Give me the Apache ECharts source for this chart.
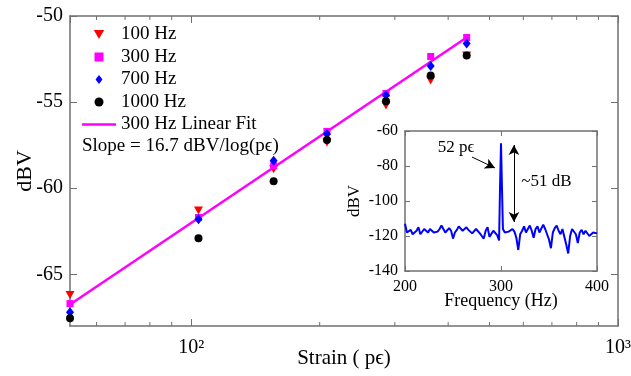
<!DOCTYPE html>
<html>
<head>
<meta charset="utf-8">
<script src="https://cdn.jsdelivr.net/npm/echarts@6/dist/echarts.min.js"></script>
<style>html,body{margin:0;padding:0;background:#fff}#c{width:631px;height:376px}</style>
</head>
<body>
<div id="c"></div>
<script>
// ---- main chart data ----
const strain = [52, 104, 156, 208, 286, 364, 442];
const hz100  = [-66.2, -61.3, -58.9, -57.35, -55.2, -53.75, -52.3];
const hz300  = [-66.7, -61.7, -58.7, -56.7, -54.5, -52.35, -51.25];
const hz700  = [-67.2, -61.8, -58.4, -56.85, -54.6, -52.9, -51.6];
const hz1000 = [-67.55, -62.9, -59.6, -57.2, -54.95, -53.45, -52.3];
const fitX = [52, 442];
const fitY = [-66.75, -51.25];
const yTicks = [-65, -60, -55, -50];
const xMinor = [60, 70, 80, 90, 200, 300, 400, 500, 600, 700, 800, 900];
const xTickLabels = { 100: '10\u00b2', 1000: '10\u00b3' };
const seriesNames = ['100 Hz', '300 Hz', '700 Hz', '1000 Hz', '300 Hz Linear Fit'];

// ---- inset spectrum data ----
const freq = [200,202,204,206,208,210,212,214,216,218,220,222,224,226,228,230,232,234,236,238,240,242,244,246,248,250,252,254,256,258,260,262,264,266,268,270,272,274,276,278,280,282,284,286,288,290,292,294,296,298,299,300,301,302,304,306,308,310,312,314,316,318,320,322,324,326,328,330,332,334,336,338,340,342,344,346,348,350,352,354,356,358,360,362,364,366,368,370,372,374,376,378,380,382,384,386,388,390,392,394,396,398,400];
const dbv = [-113,-118,-119,-116.5,-119,-120,-117,-115,-119,-118,-116,-117,-118,-116,-115,-118,-117,-117.5,-116,-114,-116,-118,-117,-115.5,-117,-121.5,-118,-116.5,-114.5,-113.5,-117,-118,-115,-116.5,-117,-118.5,-119.5,-116,-117,-118.5,-120,-121.5,-117,-115,-120.5,-121,-117,-118,-119.5,-122.5,-92,-67,-92,-116,-118,-118.5,-117.5,-117,-116,-117.5,-121,-128,-119,-117,-114.5,-118,-119,-114,-117,-121,-116,-114.5,-118,-117,-113.5,-116,-119,-122,-127,-118,-115.5,-114,-117,-119,-116,-117,-125,-130,-120,-116,-115,-119,-124,-118,-116.5,-119,-117,-116.5,-120,-121,-118,-117,-118.5];

const serif = "'Liberation Serif','Times New Roman',serif";
const gray = '#707070';
const pair = (xs, ys) => xs.map((x, i) => [x, ys[i]]);

function frameAxis(extra) {
  return Object.assign({
    axisLine: { show: true, onZero: false, lineStyle: { color: gray, width: 1.5 } },
    axisTick: { show: true, inside: true, length: 7, lineStyle: { color: gray, width: 1 } },
    splitLine: { show: false },
    axisLabel: { show: false },
    nameMoveOverlap: false
  }, extra);
}

const logFmt = v => xTickLabels[Math.round(v)] || '';

const triPath = 'path://M0,0L10,0L5,8.66Z';
const sqPath = 'path://M0,0L10,0L10,10L0,10Z';
const diaPath = 'path://M5,0L10,6.5L5,13L0,6.5Z';
const linePath = 'path://M0,0L34,0L34,2.5L0,2.5Z';

const option = {
  animation: false,
  backgroundColor: '#fff',
  grid: [
    { left: 70, top: 16, right: 13, bottom: 50, outerBoundsMode: 'none', containLabel: false },
    { left: 405, top: 131, width: 192, height: 140, show: true, backgroundColor: '#fff', borderWidth: 0, outerBoundsMode: 'none', containLabel: false }
  ],
  legend: {
    data: [
      { name: seriesNames[0], icon: triPath, itemStyle: { color: '#ff0000' } },
      { name: seriesNames[1], icon: sqPath, itemStyle: { color: '#ff00ff' } },
      { name: seriesNames[2], icon: diaPath, itemStyle: { color: '#0000ff' } },
      { name: seriesNames[3], icon: 'circle', itemStyle: { color: '#000' } },
      { name: seriesNames[4], icon: linePath, itemStyle: { color: '#ff00ff' } }
    ],
    orient: 'vertical',
    left: 82, top: 25, padding: 0,
    itemWidth: 34, itemHeight: 9, itemGap: 3.5,
    textStyle: { fontFamily: serif, fontSize: 19, color: '#000' },
    selectedMode: false
  },
  xAxis: [
    frameAxis({
      gridIndex: 0, type: 'log', logBase: 10, min: 52, max: 1000, position: 'bottom',
      axisLabel: { show: true, formatter: logFmt, fontFamily: serif, fontSize: 20, color: '#000', margin: 12, showMinLabel: false, showMaxLabel: true },
      name: 'Strain ( p\u03f5)', nameLocation: 'middle', nameGap: 22,
      nameTextStyle: { fontFamily: serif, fontSize: 21, color: '#000' }
    }),
    frameAxis({ gridIndex: 0, type: 'log', logBase: 10, min: 52, max: 1000, position: 'top' }),
    frameAxis({
      gridIndex: 1, type: 'value', min: 200, max: 400, interval: 100, position: 'bottom',
      axisTick: { show: true, inside: true, length: 5, lineStyle: { color: gray } },
      axisLabel: { show: true, fontFamily: serif, fontSize: 16, color: '#000', margin: 8 },
      name: 'Frequency (Hz)', nameLocation: 'middle', nameGap: 21,
      nameTextStyle: { fontFamily: serif, fontSize: 18, color: '#000' }
    }),
    frameAxis({
      gridIndex: 1, type: 'value', min: 200, max: 400, interval: 100, position: 'top',
      axisTick: { show: true, inside: true, length: 5, lineStyle: { color: gray } }
    })
  ],
  yAxis: [
    frameAxis({
      gridIndex: 0, type: 'value', min: -68, max: -50, position: 'left',
      axisTick: { show: true, inside: true, length: 7, customValues: yTicks, lineStyle: { color: gray } },
      axisLabel: { show: true, customValues: yTicks, fontFamily: serif, fontSize: 20, color: '#000', margin: 7 },
      name: 'dBV', nameLocation: 'middle', nameGap: 34,
      nameTextStyle: { fontFamily: serif, fontSize: 22, color: '#000' }
    }),
    frameAxis({
      gridIndex: 0, type: 'value', min: -68, max: -50, position: 'right',
      axisTick: { show: true, inside: true, length: 7, customValues: yTicks, lineStyle: { color: gray } }
    }),
    frameAxis({
      gridIndex: 1, type: 'value', min: -140, max: -60, interval: 20, position: 'left',
      axisTick: { show: true, inside: true, length: 5, lineStyle: { color: gray } },
      axisLabel: { show: true, fontFamily: serif, fontSize: 16, color: '#000', margin: 7 },
      name: 'dBV', nameLocation: 'middle', nameGap: 42,
      nameTextStyle: { fontFamily: serif, fontSize: 17, color: '#000' }
    }),
    frameAxis({
      gridIndex: 1, type: 'value', min: -140, max: -60, interval: 20, position: 'right',
      axisTick: { show: true, inside: true, length: 5, lineStyle: { color: gray } }
    })
  ],
  graphic: [
    { type: 'text', left: 82, top: 137, style: { text: 'Slope = 16.7 dBV/log(p\u03f5)', font: '19px ' + serif, fill: '#000' } }
  ],
  series: [
    { name: '300 Hz Linear Fit', type: 'line', xAxisIndex: 0, yAxisIndex: 0, data: pair(fitX, fitY),
      symbol: 'none', lineStyle: { color: '#ff00ff', width: 2.5 }, itemStyle: { color: '#ff00ff' }, z: 2 },
    { name: '100 Hz', type: 'scatter', xAxisIndex: 0, yAxisIndex: 0, data: pair(strain, hz100),
      symbol: triPath, symbolSize: [9, 8], itemStyle: { color: '#ff0000', opacity: 1 }, z: 3 },
    { name: '300 Hz', type: 'scatter', xAxisIndex: 0, yAxisIndex: 0, data: pair(strain, hz300),
      symbol: sqPath, symbolSize: 7, itemStyle: { color: '#ff00ff', opacity: 1 }, z: 3 },
    { name: '700 Hz', type: 'scatter', xAxisIndex: 0, yAxisIndex: 0, data: pair(strain, hz700),
      symbol: diaPath, symbolSize: [8, 10], itemStyle: { color: '#0000ff', opacity: 1 }, z: 3 },
    { name: '1000 Hz', type: 'scatter', xAxisIndex: 0, yAxisIndex: 0, data: pair(strain, hz1000),
      symbol: 'circle', symbolSize: 8, itemStyle: { color: '#000', opacity: 1 }, z: 3 },
    { name: 'minorBottom', type: 'scatter', xAxisIndex: 0, yAxisIndex: 0, silent: true,
      data: xMinor.map(x => [x, -68]), symbol: 'rect', symbolSize: [1, 4], symbolOffset: [0, -2],
      itemStyle: { color: gray, opacity: 1 }, z: 1 },
    { name: 'minorTop', type: 'scatter', xAxisIndex: 0, yAxisIndex: 0, silent: true,
      data: xMinor.map(x => [x, -50]), symbol: 'rect', symbolSize: [1, 4], symbolOffset: [0, 2],
      itemStyle: { color: gray, opacity: 1 }, z: 1 },
    { name: 'spectrum', type: 'line', xAxisIndex: 2, yAxisIndex: 2, data: pair(freq, dbv),
      symbol: 'none', lineStyle: { color: '#0000ff', width: 2 }, z: 5,
      markLine: {
        silent: true, animation: false,
        label: { show: false },
        lineStyle: { color: '#000', width: 1, type: 'solid' },
        data: [
          [{ coord: [269.8, -74.9], symbol: 'none' }, { coord: [293.7, -81.1], symbol: 'arrow', symbolSize: [8, 10] }],
          [{ coord: [313.5, -68], symbol: 'arrow', symbolSize: [8, 10] }, { coord: [313.5, -112], symbol: 'arrow', symbolSize: [8, 10] }]
        ]
      },
      markPoint: {
        silent: true, symbol: 'circle', symbolSize: 0,
        label: { show: true, position: 'inside', fontFamily: serif, fontSize: 17, color: '#000' },
        data: [
          { coord: [253.1, -69.7], value: '52 p\u03f5', label: { formatter: '52 p\u03f5' } },
          { coord: [347.4, -89.1], value: '~51 dB', label: { formatter: '~51 dB' } }
        ]
      }
    }
  ]
};

const chart = echarts.init(document.getElementById('c'), null, { renderer: 'canvas' });
chart.setOption(option);
</script>
</body>
</html>
